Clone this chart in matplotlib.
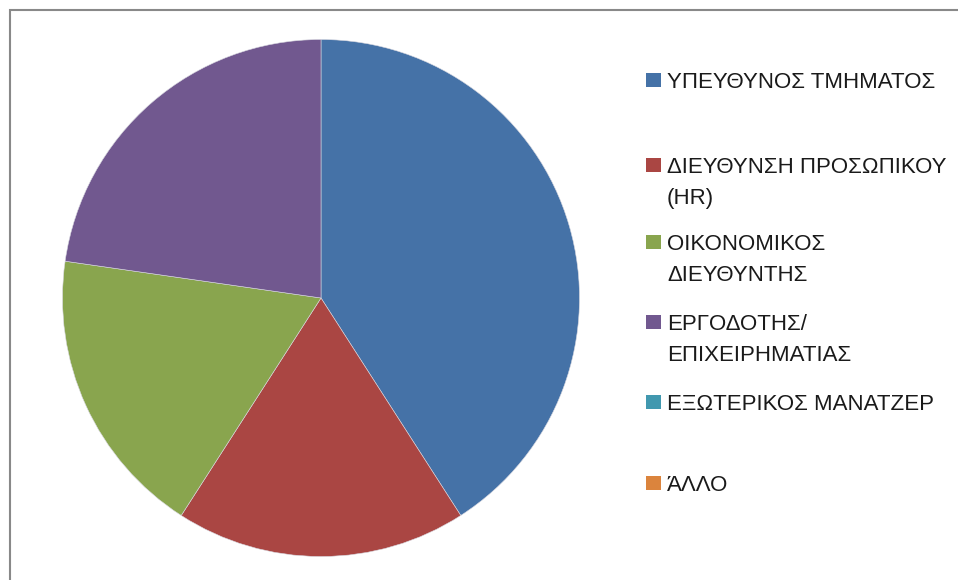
import matplotlib.pyplot as plt
from matplotlib.patches import Rectangle

plt.rcParams["font.family"] = ["Liberation Sans", "DejaVu Sans"]

# Responses per role (count of answers)
labels = [
    ["ΥΠΕΥΘΥΝΟΣ ΤΜΗΜΑΤΟΣ"],
    ["ΔΙΕΥΘΥΝΣΗ ΠΡΟΣΩΠΙΚΟΥ", "(HR)"],
    ["ΟΙΚΟΝΟΜΙΚΟΣ", "ΔΙΕΥΘΥΝΤΗΣ"],
    ["ΕΡΓΟΔΟΤΗΣ/", "ΕΠΙΧΕΙΡΗΜΑΤΙΑΣ"],
    ["ΕΞΩΤΕΡΙΚΟΣ ΜΑΝΑΤΖΕΡ"],
    ["ΆΛΛΟ"],
]
values = [9, 4, 4, 5, 0, 0]
colors = ["#4572A7", "#AA4643", "#89A54E", "#71588F", "#4198AF", "#DB843D"]

W, H = 958, 580
fig = plt.figure(figsize=(W / 100, H / 100), dpi=100)

# outer chart frame (runs off the right and bottom edges)
fig.patches.append(Rectangle((10 / W, -0.1), 1.2, (H - 10) / H + 0.1,
                             transform=fig.transFigure, fill=False,
                             edgecolor="#898989", linewidth=1.5))

ax = fig.add_axes([62.5 / W, 23.5 / H, 517 / W, 517 / H])
wedges, _ = ax.pie(values, colors=colors, startangle=90, counterclock=False,
                   radius=1, wedgeprops=dict(edgecolor="#d8d8e0", linewidth=0.4))
for w, v in zip(wedges, values):
    if v == 0:
        w.set_linewidth(0)
ax.set_xlim(-1, 1)
ax.set_ylim(-1, 1)
ax.set_aspect("equal")
ax.axis("off")

# hand-placed legend: square marker + label lines
first_line_y = [80, 165, 242, 322, 402, 483]
line_gap = 31
for lines, color, y in zip(labels, colors, first_line_y):
    fig.patches.append(Rectangle((646 / W, 1 - (y + 7) / H), 15 / W, 14 / H,
                                 transform=fig.transFigure, facecolor=color,
                                 edgecolor="none"))
    for i, line in enumerate(lines):
        fig.text(667 / W, 1 - (y + i * line_gap) / H, line, fontsize=16,
                 color="#1a1a1a", va="center_baseline", ha="left")

fig.savefig("out.png", dpi=100, facecolor="white")
